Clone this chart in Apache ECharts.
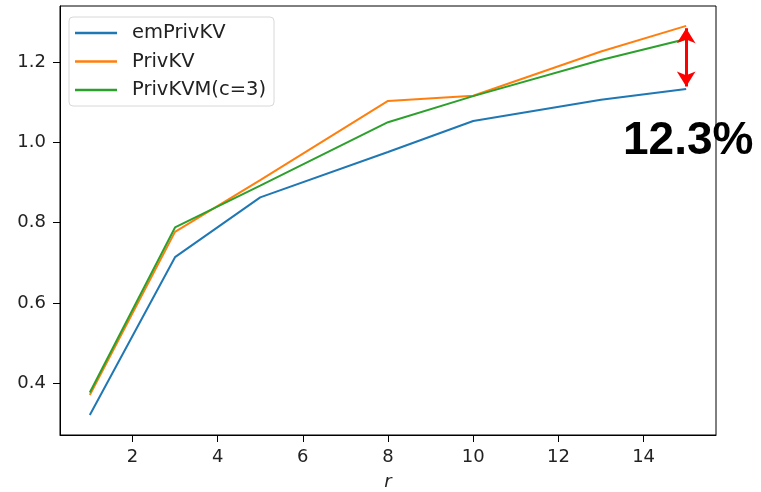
<!DOCTYPE html>
<html>
<head>
<meta charset="utf-8">
<script src="https://cdn.jsdelivr.net/npm/echarts@6/dist/echarts.min.js"></script>
<style>html,body{margin:0;padding:0;background:#fff;}#c{width:761px;height:492px;}</style>
</head>
<body>
<div id="c"></div>
<script>
const rValues = [1, 3, 5, 8, 10, 13, 15];
const emPrivKV = [0.321, 0.714, 0.863, 0.976, 1.053, 1.106, 1.133];
const privKV = [0.371, 0.777, 0.906, 1.103, 1.116, 1.226, 1.290];
const privKVM = [0.377, 0.788, 0.892, 1.050, 1.115, 1.205, 1.257];
const xTicks = [2, 4, 6, 8, 10, 12, 14];
const yTicks = [0.4, 0.6, 0.8, 1.0, 1.2];
const gapLabel = '12.3%';

const pairs = arr => rValues.map((x, i) => [x, arr[i]]);
const font = 'DejaVu Sans';
const chart = echarts.init(document.getElementById('c'));
chart.setOption({
  animation: false,
  backgroundColor: '#fff',
  grid: { left: 60, right: 45, top: 6, bottom: 57, containLabel: false, outerBoundsMode: 'none', show: true, borderColor: '#000', borderWidth: 1, backgroundColor: 'transparent' },
  legend: {
    orient: 'vertical', left: 69, top: 17,
    backgroundColor: '#fff', borderColor: '#d8d8d8', borderWidth: 1, borderRadius: 4,
    padding: [5, 8, 5, 6], itemGap: 6.5, itemWidth: 42, itemHeight: 2.5, icon: 'rect',
    textStyle: { fontFamily: font, fontSize: 19.5, color: '#222', lineHeight: 22, padding: [0, 0, 0, 10] },
    data: ['emPrivKV', 'PrivKV', 'PrivKVM(c=3)']
  },
  xAxis: {
    type: 'value', min: 0.3, max: 15.7,
    name: 'r', nameLocation: 'middle', nameGap: 38,
    nameTextStyle: { fontFamily: font, fontSize: 18, fontStyle: 'italic', color: '#222' },
    axisLine: { show: true, lineStyle: { color: '#000', width: 1 } },
    axisTick: { show: true, length: 7, customValues: xTicks, lineStyle: { color: '#000' } },
    axisLabel: { customValues: xTicks, fontFamily: font, fontSize: 18, color: '#222', margin: 13 },
    splitLine: { show: false }
  },
  yAxis: {
    type: 'value', min: 0.2712, max: 1.3394,
    axisLine: { show: true, lineStyle: { color: '#000', width: 1 } },
    axisTick: { show: true, length: 7, customValues: yTicks, lineStyle: { color: '#000' } },
    axisLabel: { customValues: yTicks, fontFamily: font, fontSize: 18, color: '#222', margin: 14, formatter: v => v.toFixed(1) },
    splitLine: { show: false }
  },
  series: [
    { name: 'emPrivKV', type: 'line', data: pairs(emPrivKV), showSymbol: false, symbol: 'none', color: '#1f77b4', lineStyle: { width: 2 },
      markLine: {
        silent: true, symbol: ['arrow', 'arrow'], symbolSize: [14, 15],
        lineStyle: { color: '#ff0000', width: 3, type: 'solid' }, label: { show: false },
        data: [[{ coord: [15, privKV[6] - 0.006] }, { coord: [15, emPrivKV[6] + 0.006] }]]
      },
      markPoint: {
        silent: true, symbol: 'rect', symbolSize: 1, itemStyle: { color: 'transparent' },
        data: [{ coord: [15, 1.0025], label: { show: true, formatter: gapLabel, position: 'inside', offset: [2, 0], fontFamily: 'Liberation Sans', fontWeight: 'bold', fontSize: 46, color: '#000' } }]
      }
    },
    { name: 'PrivKV', type: 'line', data: pairs(privKV), showSymbol: false, symbol: 'none', color: '#ff7f0e', lineStyle: { width: 2 } },
    { name: 'PrivKVM(c=3)', type: 'line', data: pairs(privKVM), showSymbol: false, symbol: 'none', color: '#2ca02c', lineStyle: { width: 2 } }
  ]
});
</script>
</body>
</html>
